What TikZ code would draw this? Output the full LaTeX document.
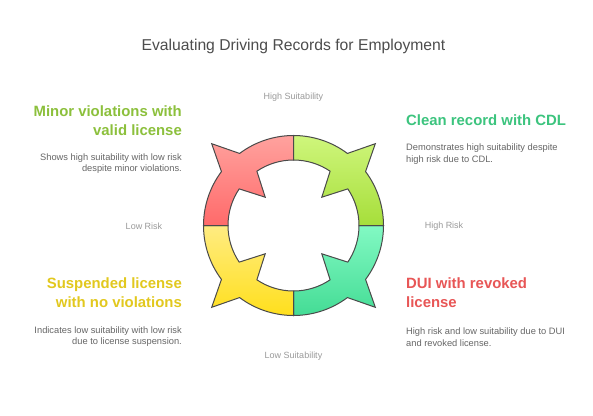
\documentclass[tikz,border=0pt]{standalone}
\usepackage{fontspec}
\setmainfont{Liberation Sans}
\usetikzlibrary{calc}
\definecolor{titlegray}{HTML}{4D4D4D}
\definecolor{descgray}{HTML}{666666}
\definecolor{axisgray}{HTML}{9A9A9A}
\definecolor{ringline}{HTML}{4A4A4A}
\definecolor{hminor}{HTML}{8CC03C}
\definecolor{hclean}{HTML}{3CC47E}
\definecolor{hsusp}{HTML}{E2C81E}
\definecolor{hdui}{HTML}{E85656}
\definecolor{redtop}{HTML}{FFA29E}
\definecolor{redbot}{HTML}{FF6A6A}
\definecolor{greentop}{HTML}{CFF67C}
\definecolor{greenbot}{HTML}{A6DE3A}
\definecolor{tealtop}{HTML}{82F9C3}
\definecolor{tealbot}{HTML}{44DC95}
\definecolor{yeltop}{HTML}{FFEC82}
\definecolor{yelbot}{HTML}{FFDF1C}
\newcommand\ringpiece[3]{%
  \draw[piece, top color=#2, bottom color=#3]
   ($(c)+(#1:90)$) arc[start angle=#1, end angle=#1+36.8, radius=90]
   -- ($(c)+(#1+45:115.7)$) -- ($(c)+(#1+53.2:90)$)
   arc[start angle=#1+53.2, end angle=#1+90, radius=90]
   -- ($(c)+(#1+90:65.5)$) arc[start angle=#1+90, end angle=#1+56, radius=65.5]
   -- ($(c)+(#1+45:40)$) -- ($(c)+(#1+34:65.5)$)
   arc[start angle=#1+34, end angle=#1, radius=65.5] -- cycle;}
\begin{document}
\begin{tikzpicture}[x=1pt,y=-1pt,
  piece/.style={draw=ringline, line width=1pt, line join=miter},
  titletext/.style={font=\fontsize{15.7}{18}\selectfont, text=titlegray, inner sep=0pt},
  axislabel/.style={font=\fontsize{9}{10}\selectfont, text=axisgray, inner sep=0pt},
  headtext/.style={font=\bfseries\fontsize{14.9}{19}\selectfont, inner sep=0pt},
  desctext/.style={font=\fontsize{9.3}{11.5}\selectfont, text=descgray, inner sep=0pt}]
\useasboundingbox[fill=white] (0,0) rectangle (593,415);
\coordinate (c) at (293.5,225.5);
\ringpiece{0}{tealtop}{tealbot}
\ringpiece{90}{yeltop}{yelbot}
\ringpiece{180}{redtop}{redbot}
\ringpiece{270}{greentop}{greenbot}

\node[titletext] (title) at (293.5,46.5) {Evaluating Driving Records for Employment};
\node[axislabel] (hs) at (293.5,97) {High Suitability};
\node[axislabel] (ls) at (293.5,356) {Low Suitability};
\node[axislabel] (lr) at (144,226) {Low Risk};
\node[axislabel] (hr) at (444,226) {High Risk};

\node[headtext, text=hminor, anchor=east, align=right] (minorh) at (182,121) {Minor violations with\\valid license};
\node[desctext, anchor=east, align=right] (minord) at (182,163.5) {Shows high suitability with low risk\\despite minor violations.};

\node[headtext, text=hclean, anchor=west, align=left] (cleanh) at (406,120.5) {Clean record with CDL};
\node[desctext, anchor=west, align=left] (cleand) at (406,154) {Demonstrates high suitability despite\\high risk due to CDL.};

\node[headtext, text=hsusp, anchor=east, align=right] (susph) at (182,293) {Suspended license\\with no violations};
\node[desctext, anchor=east, align=right] (suspd) at (182,336.5) {Indicates low suitability with low risk\\due to license suspension.};

\node[headtext, text=hdui, anchor=west, align=left] (duih) at (406,293) {DUI with revoked\\license};
\node[desctext, anchor=west, align=left] (duid) at (406,337) {High risk and low suitability due to DUI\\and revoked license.};
\end{tikzpicture}
\end{document}
